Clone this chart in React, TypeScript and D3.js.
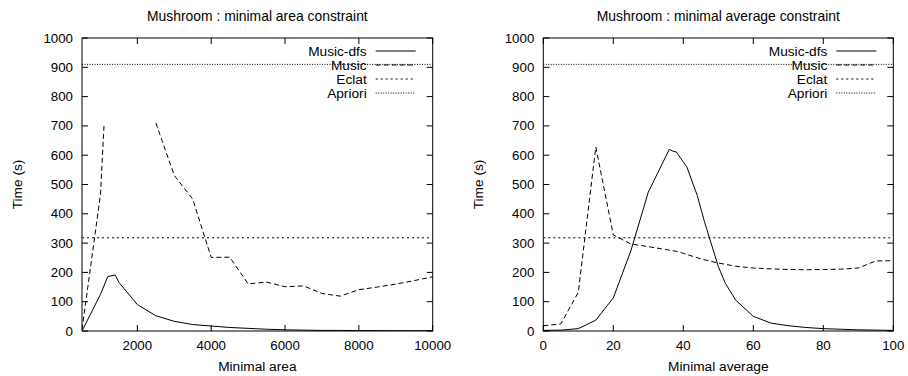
import React from "react";
import * as d3 from "d3";

// ---------- data ----------
const yTicks = [0, 100, 200, 300, 400, 500, 600, 700, 800, 900, 1000];
const legendNames = ["Music-dfs", "Music", "Eclat", "Apriori"];

// Left panel: minimal area
const areaTicks = [2000, 4000, 6000, 8000, 10000];
const areaDfsX = [500, 1000, 1200, 1400, 1500, 2000, 2500, 3000, 3500, 4000, 4500, 5000, 5500, 6000, 6500, 7000, 7500, 8000, 8500, 9000, 9500, 10000];
const areaDfsY = [0, 125, 186, 191, 166, 90, 52, 33, 22, 17, 12, 9, 6, 4, 3, 2, 2, 1.5, 1.2, 1, 1, 1];
const areaMusicX1 = [500, 1000, 1100];
const areaMusicY1 = [5, 465, 710];
const areaMusicX2 = [2500, 3000, 3500, 4000, 4500, 5000, 5500, 6000, 6500, 7000, 7500, 8000, 8500, 9000, 9500, 10000];
const areaMusicY2 = [710, 531, 450, 251, 252, 161, 167, 151, 154, 128, 119, 141, 150, 160, 172, 185];
const areaEclat = 318;
const areaApriori = 910;

// Right panel: minimal average
const avgTicks = [0, 20, 40, 60, 80, 100];
const avgDfsX = [0, 5, 10, 15, 20, 25, 30, 36, 37, 38, 41, 44, 46, 50, 52, 55, 60, 65, 70, 75, 80, 85, 90, 95, 100];
const avgDfsY = [2, 3, 8, 37, 113, 273, 474, 620, 614, 611, 560, 462, 375, 220, 163, 105, 50, 27, 18, 12, 8, 6, 4, 3, 2];
const avgMusicX = [0, 5, 10, 15, 20, 25, 30, 35, 38, 40, 45, 50, 55, 60, 65, 70, 75, 80, 85, 90, 95, 100];
const avgMusicY = [18, 24, 132, 628, 328, 297, 288, 278, 272, 265, 246, 232, 221, 215, 212, 210, 209, 210, 211, 215, 239, 240];
const avgEclat = 318;
const avgApriori = 910;

// ---------- styles ----------
const FONT = "'Liberation Sans', Arial, Helvetica, sans-serif";
const DASH: Record<string, string | undefined> = {
  "Music-dfs": undefined,
  Music: "5,3",
  Eclat: "2,3",
  Apriori: "1,1.5",
};

type Series = { xs: number[]; ys: number[]; name: string };

function Panel(props: {
  left: number;
  right: number;
  title: string;
  xlabel: string;
  ylabelX: number;
  xDomain: [number, number];
  xTicks: number[];
  series: Series[];
  eclat: number;
  apriori: number;
  clipId: string;
}) {
  const top = 38;
  const bottom = 331;
  const x = d3.scaleLinear().domain(props.xDomain).range([props.left, props.right]);
  const y = d3.scaleLinear().domain([0, 1000]).range([bottom, top]);
  const line = d3
    .line<[number, number]>()
    .x((d) => x(d[0]))
    .y((d) => y(d[1]));
  const tickLen = 6;
  const cx = (props.left + props.right) / 2;
  const legendTextX = props.right - 66;
  const legendS0 = props.right - 57;
  const legendS1 = props.right - 17;
  const legendRows = [51, 65, 79, 93];

  const hLines = [
    { name: "Eclat", v: props.eclat },
    { name: "Apriori", v: props.apriori },
  ];

  return (
    <g>
      <defs>
        <clipPath id={props.clipId}>
          <rect x={props.left} y={top} width={props.right - props.left} height={bottom - top} />
        </clipPath>
      </defs>
      <text x={cx} y={21} textAnchor="middle" fontFamily={FONT} fontSize={13.9} fill="#000">
        {props.title}
      </text>
      <text x={cx} y={371} textAnchor="middle" fontFamily={FONT} fontSize={13.7} fill="#000">
        {props.xlabel}
      </text>
      <text
        transform={`translate(${props.ylabelX},${(top + bottom) / 2}) rotate(-90)`}
        textAnchor="middle"
        dominantBaseline="central"
        fontFamily={FONT}
        fontSize={13.7}
        fill="#000"
      >
        Time (s)
      </text>
      {/* y ticks */}
      {yTicks.map((t) => (
        <g key={"y" + t}>
          <line x1={props.left} x2={props.left + tickLen} y1={y(t)} y2={y(t)} stroke="#000" strokeWidth={1} />
          <line x1={props.right} x2={props.right - tickLen} y1={y(t)} y2={y(t)} stroke="#000" strokeWidth={1} />
          <text x={props.left - 9} y={y(t)} textAnchor="end" dominantBaseline="central" fontFamily={FONT} fontSize={13.3} fill="#000">
            {t}
          </text>
        </g>
      ))}
      {/* x ticks */}
      {props.xTicks.map((t) => (
        <g key={"x" + t}>
          <line x1={x(t)} x2={x(t)} y1={bottom} y2={bottom - tickLen} stroke="#000" strokeWidth={1} />
          <line x1={x(t)} x2={x(t)} y1={top} y2={top + tickLen} stroke="#000" strokeWidth={1} />
          <text x={x(t)} y={350} textAnchor="middle" fontFamily={FONT} fontSize={13.3} fill="#000">
            {t}
          </text>
        </g>
      ))}
      {/* legend */}
      {legendNames.map((n, i) => (
        <g key={"lg" + n}>
          <text x={legendTextX} y={legendRows[i]} textAnchor="end" dominantBaseline="central" fontFamily={FONT} fontSize={13.7} fill="#000">
            {n}
          </text>
          <line x1={legendS0} x2={legendS1} y1={legendRows[i]} y2={legendRows[i]} stroke="#000" strokeWidth={1} strokeDasharray={DASH[n]} />
        </g>
      ))}
      <g clipPath={`url(#${props.clipId})`}>
        {hLines.map((h) => (
          <path
            key={h.name}
            d={line([
              [props.xDomain[0], h.v],
              [props.xDomain[1], h.v],
            ]) || ""}
            fill="none"
            stroke="#000"
            strokeWidth={1}
            strokeDasharray={DASH[h.name]}
          />
        ))}
        {props.series.map((s, i) => (
          <path
            key={s.name + i}
            d={line(s.xs.map((v, j) => [v, s.ys[j]] as [number, number])) || ""}
            fill="none"
            stroke="#000"
            strokeWidth={1}
            strokeDasharray={DASH[s.name]}
          />
        ))}
      </g>
      <rect x={props.left} y={top} width={props.right - props.left} height={bottom - top} fill="none" stroke="#000" strokeWidth={1} />
    </g>
  );
}

export default function App() {
  return (
    <svg
      width={908}
      height={376}
      viewBox="0 0 908 376"
      style={{ position: "absolute", left: 0, top: 0, background: "#fff" }}
    >
      <rect x={0} y={0} width={908} height={376} fill="#fff" />
      <Panel
        left={82}
        right={432.7}
        title="Mushroom : minimal area constraint"
        xlabel="Minimal area"
        ylabelX={17}
        xDomain={[500, 10000]}
        xTicks={areaTicks}
        series={[
          { name: "Music-dfs", xs: areaDfsX, ys: areaDfsY },
          { name: "Music", xs: areaMusicX1, ys: areaMusicY1 },
          { name: "Music", xs: areaMusicX2, ys: areaMusicY2 },
        ]}
        eclat={areaEclat}
        apriori={areaApriori}
        clipId="clipL"
      />
      <Panel
        left={543.3}
        right={893.3}
        title="Mushroom : minimal average constraint"
        xlabel="Minimal average"
        ylabelX={478}
        xDomain={[0, 100]}
        xTicks={avgTicks}
        series={[
          { name: "Music-dfs", xs: avgDfsX, ys: avgDfsY },
          { name: "Music", xs: avgMusicX, ys: avgMusicY },
        ]}
        eclat={avgEclat}
        apriori={avgApriori}
        clipId="clipR"
      />
    </svg>
  );
}
